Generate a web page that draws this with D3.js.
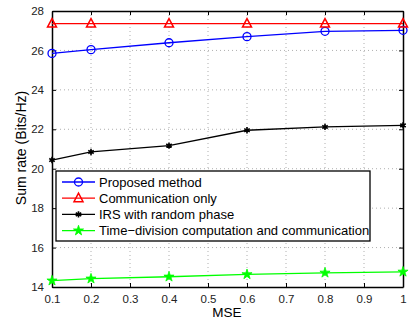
<!DOCTYPE html>
<html>
<head>
<meta charset="utf-8">
<script src="https://cdn.jsdelivr.net/npm/d3@7"></script>
<style>
  body { margin: 0; background: #fff; }
  svg { display: block; font-family: "Liberation Sans", Arial, sans-serif; }
</style>
</head>
<body>
<svg id="chart" width="419" height="322"></svg>
<script>
var mse = [0.1, 0.2, 0.4, 0.6, 0.8, 1]
var proposed = [25.85, 26.04, 26.39, 26.7, 26.97, 27.02]
var commOnly = [27.36, 27.36, 27.36, 27.36, 27.36, 27.36]
var irsRandom = [20.44, 20.85, 21.17, 21.95, 22.12, 22.2]
var timeDivision = [14.32, 14.42, 14.52, 14.64, 14.72, 14.77]
var xTicks = [0.1, 0.2, 0.3, 0.4, 0.5, 0.6, 0.7, 0.8, 0.9, 1]
var yTicks = [14, 16, 18, 20, 22, 24, 26, 28]

var series = [
  { name: "Proposed method", values: proposed, color: "#0000ff", marker: "circle" },
  { name: "Communication only", values: commOnly, color: "#ff0000", marker: "triangle" },
  { name: "IRS with random phase", values: irsRandom, color: "#000000", marker: "asterisk" },
  { name: "Time\u2212division computation and communication", values: timeDivision, color: "#00ff00", marker: "star" }
]

var plotLeft = 52, plotRight = 403, plotTop = 11, plotBottom = 287
var svg = d3.select("#chart")

var x = d3.scaleLinear().domain([0.1, 1]).range([plotLeft, plotRight])
var y = d3.scaleLinear().domain([14, 28]).range([plotBottom, plotTop])

// grid
var grid = svg.append("g")
grid.selectAll(".gx")
  .data(xTicks.slice(1, -1))
  .enter().append("line")
  .attr("x1", function(d) { return x(d) })
  .attr("x2", function(d) { return x(d) })
  .attr("y1", plotTop).attr("y2", plotBottom)
  .attr("stroke", "#9a9a9a").attr("stroke-width", 0.8)
  .attr("stroke-dasharray", "1,3")
grid.selectAll(".gy")
  .data(yTicks.slice(1, -1))
  .enter().append("line")
  .attr("y1", function(d) { return y(d) })
  .attr("y2", function(d) { return y(d) })
  .attr("x1", plotLeft).attr("x2", plotRight)
  .attr("stroke", "#9a9a9a").attr("stroke-width", 0.8)
  .attr("stroke-dasharray", "1,3")

// axes
svg.append("g")
  .attr("transform", "translate(0," + plotBottom + ")")
  .call(d3.axisBottom(x).tickValues(xTicks).tickSizeInner(-4).tickSizeOuter(0).tickPadding(8)
    .tickFormat(function(d) { return d === 1 ? "1" : d3.format(".1f")(d) }))
svg.append("g")
  .attr("transform", "translate(" + plotLeft + ",0)")
  .call(d3.axisLeft(y).tickValues(yTicks).tickSizeInner(-4).tickSizeOuter(0).tickPadding(8))
svg.append("g")
  .attr("transform", "translate(0," + plotTop + ")")
  .call(d3.axisTop(x).tickValues(xTicks).tickSizeInner(-4).tickSizeOuter(0).tickFormat(""))
svg.append("g")
  .attr("transform", "translate(" + plotRight + ",0)")
  .call(d3.axisRight(y).tickValues(yTicks).tickSizeInner(-4).tickSizeOuter(0).tickFormat(""))
svg.selectAll(".domain").attr("stroke", "#000").attr("stroke-width", 1.5)
svg.selectAll(".tick line").attr("stroke", "#000")
svg.selectAll(".tick text").attr("font-size", "11.5px").attr("fill", "#222")
  .attr("font-family", "Liberation Sans, Arial, sans-serif")

// series
var line = d3.line()
  .x(function(d, i) { return x(mse[i]) })
  .y(function(d) { return y(d) })

function drawMarker(g, type, color) {
  if (type === "circle") {
    g.append("circle").attr("r", 4).attr("fill", "none").attr("stroke", color).attr("stroke-width", 1.3)
  } else if (type === "triangle") {
    g.append("path").attr("d", "M0,-5L4.5,3.5L-4.5,3.5Z").attr("fill", "none").attr("stroke", color).attr("stroke-width", 1.5)
  } else if (type === "asterisk") {
    g.append("path").attr("d", d3.symbol().type(d3.symbolAsterisk).size(28)()).attr("stroke", color).attr("stroke-width", 1.6)
    g.append("circle").attr("r", 1.5).attr("fill", color)
  } else {
    g.append("path").attr("d", d3.symbol().type(d3.symbolStar).size(32)()).attr("fill", color).attr("stroke", color).attr("stroke-width", 0.8)
  }
}

series.forEach(function(s) {
  svg.append("path")
    .datum(s.values)
    .attr("d", line)
    .attr("fill", "none")
    .attr("stroke", s.color)
    .attr("stroke-width", 1.3)
  s.values.forEach(function(v, i) {
    drawMarker(svg.append("g").attr("transform", "translate(" + x(mse[i]) + "," + y(v) + ")"), s.marker, s.color)
  })
})

// legend
var lg = svg.append("g")
lg.append("rect")
  .attr("x", 56).attr("y", 171).attr("width", 314).attr("height", 70)
  .attr("fill", "#fff").attr("stroke", "#000").attr("stroke-width", 1.3)
series.forEach(function(s, i) {
  var ly = 182 + i * 16.2
  lg.append("line").attr("x1", 62).attr("x2", 95).attr("y1", ly).attr("y2", ly)
    .attr("stroke", s.color).attr("stroke-width", 1.3)
  drawMarker(lg.append("g").attr("transform", "translate(78.5," + ly + ")"), s.marker, s.color)
  lg.append("text").attr("x", 99).attr("y", ly + 4.6)
    .attr("font-size", "13px").attr("fill", "#000").text(s.name)
})

// labels
svg.append("text")
  .attr("x", 227).attr("y", 317)
  .attr("text-anchor", "middle").attr("font-size", "13.5px").text("MSE")
svg.append("text")
  .attr("transform", "translate(26,148) rotate(-90)")
  .attr("text-anchor", "middle").attr("font-size", "14px").text("Sum rate (Bits/Hz)")
</script>
</body>
</html>
